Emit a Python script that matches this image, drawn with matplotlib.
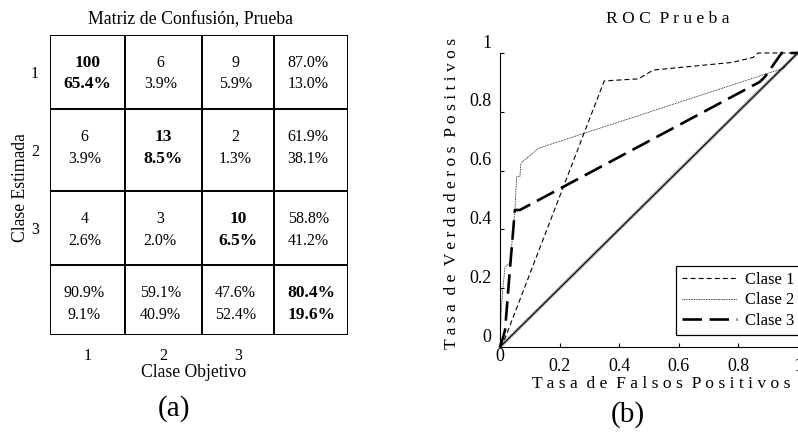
import matplotlib
matplotlib.use('Agg')
import matplotlib.pyplot as plt
import matplotlib.transforms as mtransforms

plt.rcParams['font.family'] = ['Liberation Serif', 'DejaVu Serif']
plt.rcParams['lines.scale_dashes'] = False

# matriz de confusion (prueba)
clases = ['1', '2', '3']
conteos = [[100, 6, 9], [6, 13, 2], [4, 3, 10]]
porcentajes = [[65.4, 3.9, 5.9], [3.9, 8.5, 1.3], [2.6, 2.0, 6.5]]
fila_ok = [87.0, 61.9, 58.8]
fila_err = [13.0, 38.1, 41.2]
col_ok = [90.9, 59.1, 47.6]
col_err = [9.1, 40.9, 52.4]
total_ok = 80.4
total_err = 19.6

# curvas ROC (prueba)
fpr1 = [0, 0.017, 0.35, 0.465, 0.515, 0.78, 0.85, 0.867, 1.0]
tpr1 = [0, 0.03, 0.905, 0.912, 0.942, 0.968, 0.985, 1.0, 1.0]
fpr2 = [0, 0.004, 0.009, 0.017, 0.034, 0.05, 0.056, 0.067, 0.07, 0.129, 0.952, 1.0]
tpr2 = [0, 0.12, 0.194, 0.273, 0.285, 0.466, 0.579, 0.58, 0.625, 0.676, 0.948, 1.0]
fpr3 = [0, 0.011, 0.017, 0.034, 0.05, 0.067, 0.873, 0.89, 0.946, 1.0]
tpr3 = [0, 0.035, 0.058, 0.273, 0.466, 0.466, 0.902, 0.919, 1.0, 1.0]
xticks = [0.2, 0.4, 0.6, 0.8, 1.0]
yticks = [0, 0.2, 0.4, 0.6, 0.8, 1.0]

# bordes de las celdas (la rejilla del original no es regular)
xb = [0, 1.0, 2.04, 3.01, 4]
yb = [0, 0.99, 2.08, 3.07, 4]


def espaciado(s):
    return '  '.join(' '.join(w) for w in s.split(' '))


fig = plt.figure(figsize=(7.98, 4.34), dpi=100)

# ---- (a) matriz de confusion
ax = fig.add_axes([50 / 798, 1 - 335 / 434, 298 / 798, 300 / 434])
ax.set_xlim(0, 4)
ax.set_ylim(4, 0)
for k in range(5):
    ax.axhline(yb[k], color='black', lw=1.4)
    ax.axvline(xb[k], color='black', lw=1.4)
for s in ax.spines.values():
    s.set_visible(False)

fs = 11.5
fsb = 12.5
d1, d2 = 0.37, 0.66


def celda(i, j, a, b, negrita=False):
    xc = (xb[j] + xb[j + 1]) / 2
    if negrita:
        kw = dict(fontsize=fsb, fontweight='bold')
    else:
        kw = dict(fontsize=fs)
        xc -= 0.04
    ax.text(xc, yb[i] + d1, a, ha='center', va='center', **kw)
    ax.text(xc, yb[i] + d2, b, ha='center', va='center', **kw)


for i in range(3):
    for j in range(3):
        celda(i, j, str(conteos[i][j]), '%.1f%%' % porcentajes[i][j], i == j)
    celda(i, 3, '%.1f%%' % fila_ok[i], '%.1f%%' % fila_err[i])
    celda(3, i, '%.1f%%' % col_ok[i], '%.1f%%' % col_err[i])
celda(3, 3, '%.1f%%' % total_ok, '%.1f%%' % total_err, True)

ax.set_xticks([(xb[k] + xb[k + 1]) / 2 for k in range(3)])
ax.set_xticklabels(clases, fontsize=11.5)
ax.set_yticks([(yb[k] + yb[k + 1]) / 2 for k in range(3)])
ax.set_yticklabels(clases, fontsize=11.5)
ax.tick_params(length=0)
ax.tick_params(axis='y', pad=8)
ax.tick_params(axis='x', pad=9)
ax.set_xlabel('Clase Objetivo', fontsize=12.7)
ax.xaxis.set_label_coords(0.482, -0.097)
ax.set_ylabel('Clase Estimada', fontsize=12.7)
ax.yaxis.set_label_coords(-0.072, 0.49)
ax.set_title('Matriz de Confusión, Prueba', fontsize=12.8, pad=8, x=0.471)
fig.text(174 / 798, 1 - 409 / 434, '(a)', ha='center', va='center', fontsize=21)

# ---- (b) ROC
ax2 = fig.add_axes([500 / 798, 1 - 347 / 434, 297.7 / 798, 294 / 434])
ax2.plot([0, 1], [0, 1], color='#b0b0b0', lw=2.4, clip_on=False)
ax2.plot([0, 1], [0, 1], color='black', lw=0.8, clip_on=False)
l1, = ax2.plot(fpr1, tpr1, color='black', lw=0.8, dashes=(3.6, 2.2),
               clip_on=False, label='Clase 1')
l2, = ax2.plot(fpr2, tpr2, color='black', lw=0.6, dashes=(0.6, 0.6),
               clip_on=False, label='Clase 2')
l3, = ax2.plot(fpr3, tpr3, color='black', lw=1.9, dashes=(14, 5.5),
               clip_on=False, label='Clase 3')
ax2.set_xlim(0, 1)
ax2.set_ylim(0, 1)
ax2.spines['top'].set_visible(False)
ax2.spines['right'].set_visible(False)
ax2.spines['left'].set_linewidth(0.8)
ax2.spines['bottom'].set_linewidth(0.8)
ax2.set_xticks(xticks)
ax2.set_xticklabels(['0.2', '0.4', '0.6', '0.8', '1'], fontsize=13)
ax2.set_yticks(yticks)
ax2.set_yticklabels(['0', '0.2', '0.4', '0.6', '0.8', '1'], fontsize=13)
ax2.tick_params(direction='in', length=3, width=0.8)
ax2.tick_params(axis='y', pad=6)
ax2.tick_params(axis='x', pad=8)
sube = mtransforms.ScaledTranslation(0, 12 / 100, fig.dpi_scale_trans)
for lab in ax2.get_yticklabels():
    lab.set_transform(lab.get_transform() + sube)
ax2.text(0, -0.031, '0', ha='center', va='center', fontsize=13)
ax2.set_xlabel(espaciado('Tasa de Falsos Positivos'), fontsize=12.6)
ax2.xaxis.set_label_coords(0.542, -0.1)
ax2.set_ylabel(espaciado('Tasa de Verdaderos Positivos'), fontsize=12.6)
ax2.yaxis.set_label_coords(-0.135, 0.522)
ax2.set_title(espaciado('ROC Prueba'), fontsize=12.6, pad=21.6, x=0.564)
leg = ax2.legend(handles=[l1, l2, l3], loc='lower left',
                 bbox_to_anchor=(0.59, 0.04), fontsize=12, frameon=True,
                 fancybox=False, framealpha=1, edgecolor='black',
                 handlelength=3.3, handletextpad=0.45, labelspacing=0.25,
                 borderpad=0.4, borderaxespad=0)
leg.get_frame().set_linewidth(0.9)
fig.text(628 / 798, 1 - 415 / 434, '(b)', ha='center', va='center', fontsize=21)

fig.savefig('out.png', dpi=100)
